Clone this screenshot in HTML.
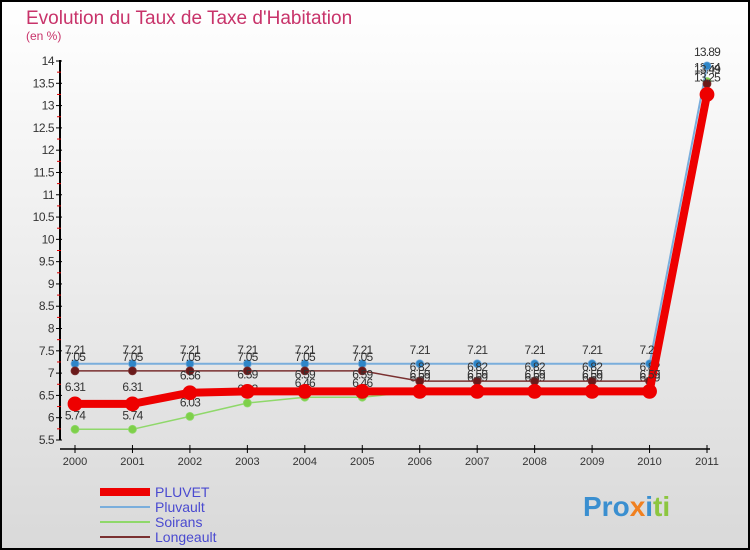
<!DOCTYPE html>
<html><head><meta charset="utf-8"><style>
body{margin:0}
svg{display:block;font-family:"Liberation Sans",sans-serif}
</style></head><body>
<svg id="c" width="750" height="550" xmlns="http://www.w3.org/2000/svg">
<defs><linearGradient id="bg" x1="0" y1="0" x2="0" y2="1"><stop offset="0" stop-color="#ffffff"/><stop offset="1" stop-color="#d9d9d9"/></linearGradient></defs>
<rect x="1" y="1" width="748" height="548" fill="url(#bg)" stroke="#000" stroke-width="2"/>
<text x="26" y="24" font-size="19" fill="#c8336a">Evolution du Taux de Taxe d'Habitation</text>
<text x="26" y="40" font-size="12" fill="#c8336a">(en %)</text>
<g id="axes"></g><g id="series"></g><g id="legend"></g>
<text x="583" y="516" font-size="28" font-weight="bold" fill="#3a8fd0">Pro<tspan fill="#f08020">x</tspan><tspan fill="#3a8fd0">i</tspan><tspan fill="#8cc63f">ti</tspan></text>
</svg>
<script>
const years=["2000","2001","2002","2003","2004","2005","2006","2007","2008","2009","2010","2011"];
const pluvet=[6.31,6.31,6.56,6.59,6.59,6.59,6.59,6.59,6.59,6.59,6.59,13.25];
const pluvault=[7.21,7.21,7.21,7.21,7.21,7.21,7.21,7.21,7.21,7.21,7.21,13.89];
const soirans=[5.74,5.74,6.03,6.33,6.46,6.46,6.59,6.59,6.59,6.59,6.59,13.54];
const longeault=[7.05,7.05,7.05,7.05,7.05,7.05,6.82,6.82,6.82,6.82,6.82,13.49];
const yTicks=[5.5,6,6.5,7,7.5,8,8.5,9,9.5,10,10.5,11,11.5,12,12.5,13,13.5,14];
const names=["PLUVET","Pluvault","Soirans","Longeault"];
const NS="http://www.w3.org/2000/svg";
const X=i=>75+i*(707-75)/11;
const Y=v=>440-(v-5.5)*(440-61)/8.5;
function mk(t,a,p){const e=document.createElementNS(NS,t);for(const k in a)e.setAttribute(k,a[k]);p.appendChild(e);return e;}
const ax=document.getElementById('axes');
let l=mk('line',{x1:60,y1:60,x2:60,y2:440,stroke:'#000','stroke-width':2},ax);


l=mk('line',{x1:60,y1:449,x2:710,y2:449,stroke:'#000','stroke-width':1.5},ax);


yTicks.forEach(v=>{
 mk('line',{x1:56,y1:Y(v),x2:62,y2:Y(v),stroke:'#000'},ax);
 if(v<14)mk('line',{x1:57,y1:Y(v+0.25),x2:61,y2:Y(v+0.25),stroke:'#d00'},ax);
 const t=mk('text',{x:54,y:Y(v)+4,'font-size':12,'text-anchor':'end',fill:'#333','letter-spacing':'-0.5'},ax);
 t.textContent=v;
 
 
});
years.forEach((y,i)=>{
 mk('line',{x1:X(i),y1:445,x2:X(i),y2:453,stroke:'#000'},ax);
 const t=mk('text',{x:X(i),y:465,'font-size':11,'text-anchor':'middle',fill:'#333'},ax);
 t.textContent=y;
 
 
});
const sg=document.getElementById('series');
function series(data,color,w,r,fill,name,labelDy){
 const g=mk('g',{},sg);
 
 
 mk('polyline',{points:data.map((v,i)=>X(i)+','+Y(v)).join(' '),fill:'none',stroke:color,'stroke-width':w,'stroke-linejoin':'round'},g);
 data.forEach((v,i)=>{
  const c=mk('circle',{cx:X(i),cy:Y(v),r:r,fill:fill,stroke:color,'stroke-width':0.8},g);
  
  
  const t=mk('text',{x:X(i),y:Y(v)+labelDy,'font-size':12,'text-anchor':'middle',fill:'#333','letter-spacing':'-0.8'},g);
  t.textContent=v;
  
  
 });
}
series(soirans,'#8fd86a',1.5,4,'#7ed04a','soirans',-10);
series(pluvault,'#7aaedc',2,4,'#2e86c8','pluvault',-10);
series(longeault,'#7a3030',1.5,4,'#6a1a1a','longeault',-10);
series(pluvet,'#ee0000',8,7,'#ee0000','pluvet',-13);
const lg=document.getElementById('legend');
const lc=['#ee0000','#7aaedc','#8fd86a','#7a3030'],lw=[8,2,2,2];
names.forEach((n,i)=>{
 const g=mk('g',{},lg);
 
 
 const y=492+i*15;
 mk('line',{x1:100,y1:y,x2:150,y2:y,stroke:lc[i],'stroke-width':lw[i]},g);
 const t=mk('text',{x:155,y:y+5,'font-size':14,fill:'#4a4ad0'},g);
 t.textContent=n;
});
</script>
</body></html>
